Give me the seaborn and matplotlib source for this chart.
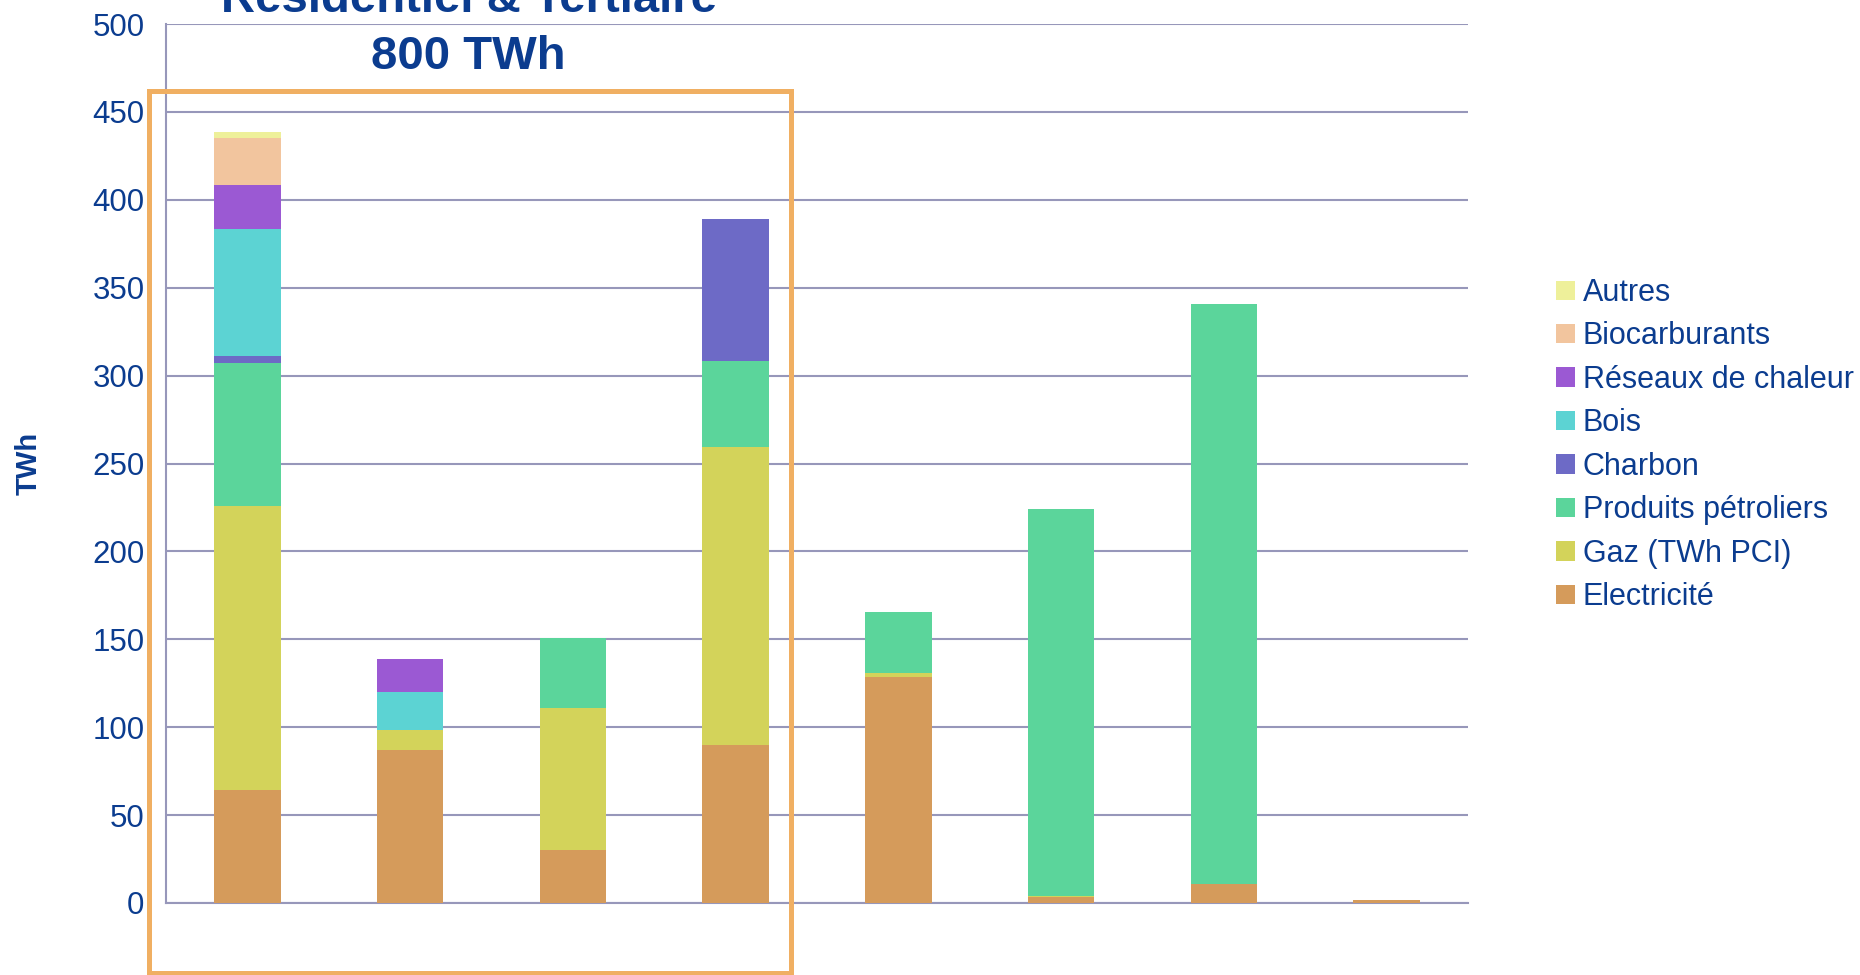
import numpy as np
import pandas as pd
import matplotlib
matplotlib.use("Agg")
import matplotlib.pyplot as plt
from matplotlib.patches import Patch, Rectangle
import seaborn as sns

# Données (TWh)
categories = ["C1", "C2", "C3", "C4", "C5", "C6", "C7", "C8"]
electricite = [64, 87, 30, 89.6, 128.4, 3.6, 11, 1.7]
gaz = [161.7, 11.4, 81, 169.9, 2.3, 0.6, 0, 0]
produits_petroliers = [81.7, 0, 40, 48.9, 34.6, 220.2, 329.7, 0]
charbon = [4, 0, 0, 80.4, 0, 0, 0, 0]
bois = [72.2, 21.7, 0, 0, 0, 0, 0, 0]
reseaux_chaleur = [25, 18.7, 0, 0, 0, 0, 0, 0]
biocarburants = [26.8, 0, 0, 0, 0, 0, 0, 0]
autres = [3.4, 0, 0, 0, 0, 0, 0, 0]

series_names = ["Electricité", "Gaz (TWh PCI)", "Produits pétroliers", "Charbon",
                "Bois", "Réseaux de chaleur", "Biocarburants", "Autres"]
series_colors = ["#D59B5B", "#D3D35A", "#5BD59B", "#6D6AC6",
                 "#5CD3D3", "#9B59D3", "#F2C59E", "#EEF09A"]
y_ticks = [0, 50, 100, 150, 200, 250, 300, 350, 400, 450, 500]

df = pd.DataFrame({"cat": categories,
                   "Electricité": electricite,
                   "Gaz (TWh PCI)": gaz,
                   "Produits pétroliers": produits_petroliers,
                   "Charbon": charbon,
                   "Bois": bois,
                   "Réseaux de chaleur": reseaux_chaleur,
                   "Biocarburants": biocarburants,
                   "Autres": autres})
cum = df[series_names].cumsum(axis=1)

text_color = "#0B3C8F"
grid_color = "#9797BA"

sns.set_style("white")
plt.rcParams["font.family"] = ["Liberation Sans", "DejaVu Sans"]

fig = plt.figure(figsize=(18.6, 9.75), dpi=100)
ax = fig.add_axes([166 / 1860, 72 / 975, 1302 / 1860, 879 / 975])

# barres empilées : on trace les cumuls du haut vers le bas
for name, color in reversed(list(zip(series_names, series_colors))):
    sns.barplot(x=df["cat"], y=cum[name], color=color, saturation=1, width=0.41,
                order=categories, errorbar=None, linewidth=0, edgecolor="none",
                ax=ax, zorder=3)

ax.set_xlim(-0.5, len(categories) - 0.5)
ax.set_ylim(0, 500)
ax.set_yticks(y_ticks)
ax.set_xticks(np.arange(-0.5, len(categories), 1.0))
ax.set_xticklabels([""] * (len(categories) + 1))
ax.set_xlabel("")
ax.set_ylabel("")
ax.yaxis.grid(True, color=grid_color, linewidth=1.5, zorder=0)
ax.xaxis.grid(False)
ax.set_axisbelow(True)
for s in ["top", "right"]:
    ax.spines[s].set_visible(False)
for s in ["left", "bottom"]:
    ax.spines[s].set_color(grid_color)
    ax.spines[s].set_linewidth(1.5)
ax.tick_params(axis="y", direction="out", length=7.5, width=1.5, color=grid_color,
               labelcolor=text_color, labelsize=22.5, pad=8)
ax.tick_params(axis="x", direction="out", length=8.5, width=1.5, color=grid_color)

# titre et axe
fig.text(0.2519, 1 - 12.5 / 975, "Résidentiel & Tertiaire", ha="center", va="baseline",
         fontsize=34, fontweight="bold", color=text_color)
fig.text(0.2519, 1 - 69 / 975, "800 TWh", ha="center", va="baseline",
         fontsize=34, fontweight="bold", color=text_color)
fig.text(29 / 1860, 1 - 463 / 975, "TWh", rotation=90, ha="center", va="center",
         fontsize=21, fontweight="bold", color=text_color)

# cadre orange
fig.patches.append(Rectangle((148.5 / 1860, 2.5 / 975), 642 / 1860, 882 / 975,
                             transform=fig.transFigure, fill=False,
                             edgecolor="#F0AF62", linewidth=3.6, zorder=10))

handles = [Patch(facecolor=c, edgecolor="none") for c in reversed(series_colors)]
leg = fig.legend(handles, list(reversed(series_names)), loc="upper left",
                 bbox_to_anchor=(1556 / 1860, 1 - 278 / 975), frameon=False,
                 fontsize=22, labelcolor=text_color, borderpad=0, borderaxespad=0,
                 handlelength=0.62, handleheight=0.6, handletextpad=0.26,
                 labelspacing=0.44)

fig.savefig("out.png", dpi=100)
